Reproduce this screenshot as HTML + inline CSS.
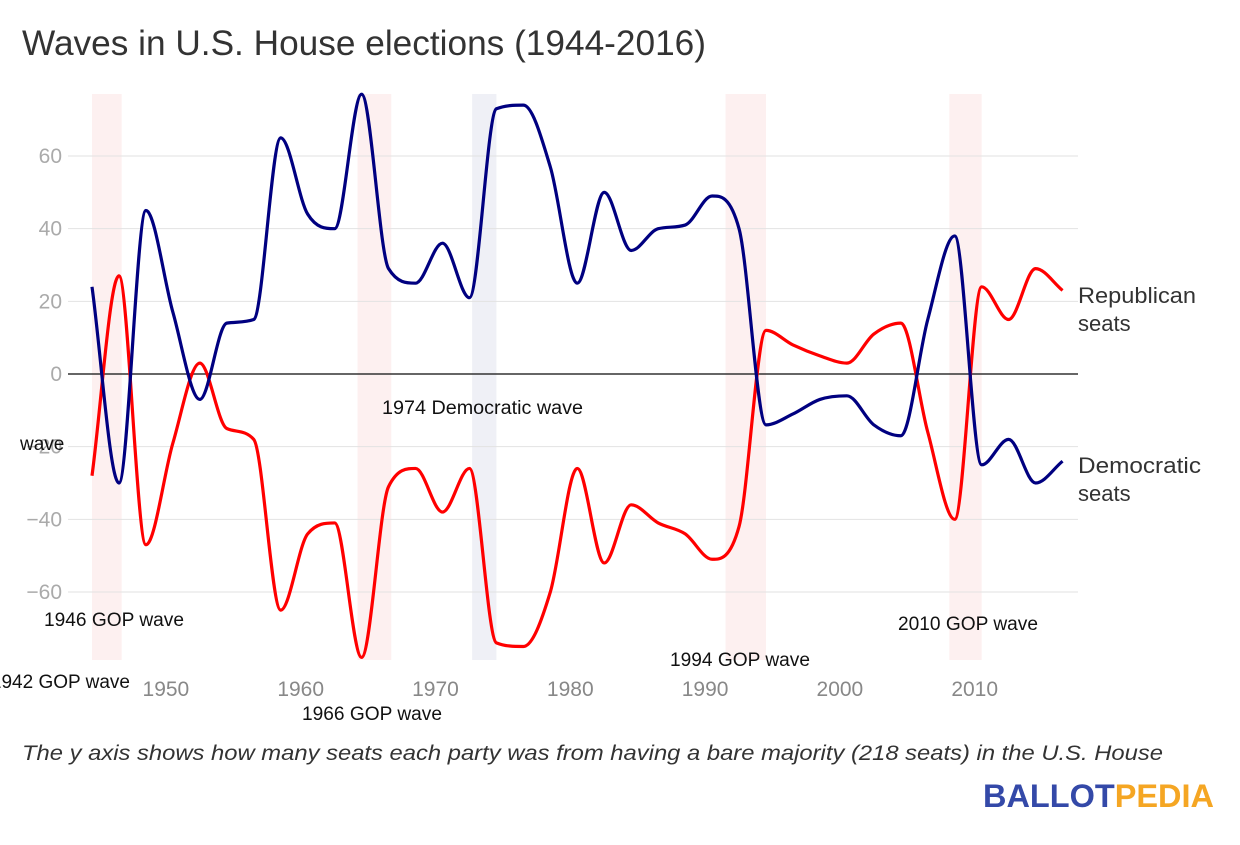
<!DOCTYPE html>
<html><head><meta charset="utf-8">
<style>
body{margin:0;background:#fff;}
svg text{font-family:"Liberation Sans",Arial,sans-serif;}
</style></head>
<body>
<svg id="chart" width="1240" height="840" viewBox="0 0 1240 840" xmlns="http://www.w3.org/2000/svg">
<text x="22" y="55" font-size="35" fill="#333" textLength="684" lengthAdjust="spacingAndGlyphs">Waves in U.S. House elections (1944-2016)</text>
<g id="bands"></g>
<g id="grid"></g>
<g id="yticks"></g>
<g id="xticks"></g>
<g id="series"></g>
<g font-size="19" fill="#111">
<text x="44" y="626" textLength="140" lengthAdjust="spacingAndGlyphs">1946 GOP wave</text>
<text x="130" y="688" text-anchor="end">1942 GOP wave</text>
<text x="302" y="720" textLength="140" lengthAdjust="spacingAndGlyphs">1966 GOP wave</text>
<text x="382" y="414" textLength="201" lengthAdjust="spacingAndGlyphs">1974 Democratic wave</text>
<text x="20" y="450">wave</text>
<text x="670" y="666" textLength="140" lengthAdjust="spacingAndGlyphs">1994 GOP wave</text>
<text x="898" y="630" textLength="140" lengthAdjust="spacingAndGlyphs">2010 GOP wave</text>
</g>
<g font-size="22" fill="#333">
<text x="1078" y="303"><tspan x="1078" textLength="118" lengthAdjust="spacingAndGlyphs">Republican</tspan><tspan x="1078" dy="28">seats</tspan></text>
<text x="1078" y="473"><tspan x="1078" textLength="123" lengthAdjust="spacingAndGlyphs">Democratic</tspan><tspan x="1078" dy="28">seats</tspan></text>
</g>
<text x="22" y="760" font-size="21" font-style="italic" fill="#333" textLength="1141" lengthAdjust="spacingAndGlyphs">The y axis shows how many seats each party was from having a bare majority (218 seats) in the U.S. House</text>
<text x="983" y="807" font-size="32" font-weight="bold" textLength="231" lengthAdjust="spacingAndGlyphs"><tspan fill="#3449a8">BALLOT</tspan><tspan fill="#f5a623">PEDIA</tspan></text>
</svg>
<script>
const years = [1944,1946,1948,1950,1952,1954,1956,1958,1960,1962,1964,1966,1968,1970,1972,1974,1976,1978,1980,1982,1984,1986,1988,1990,1992,1994,1996,1998,2000,2002,2004,2006,2008,2010,2012,2014,2016];
const demSeats = [24,-30,45,17,-7,14,15,65,44,40,77,29,25,36,21,73,74,57,25,50,34,40,41,49,40,-14,-11,-7,-6,-14,-17,15,38,-25,-18,-30,-24];
const repSeats = [-28,27,-47,-19,3,-15,-18,-65,-44,-41,-78,-31,-26,-38,-26,-74,-75,-60,-26,-52,-36,-41,-44,-51,-42,12,8,5,3,11,14,-16,-40,24,15,29,23];
const yTicks = [60,40,20,0,-20,-40,-60];
const xTicks = [1950,1960,1970,1980,1990,2000,2010];
const waveStart = [1944,1963.7,1972.2,1991,2007.6];
const waveEnd = [1946.2,1966.2,1974,1994,2010];
const waveDem = [false,false,true,false,false];

const NS="http://www.w3.org/2000/svg";
const x = yr => 92 + (yr-1944)*13.48;
const y = v => 374 - v*3.633;
function mk(tag, attrs, parent){const e=document.createElementNS(NS,tag);for(const k in attrs)e.setAttribute(k,attrs[k]);parent.appendChild(e);return e;}

const bands=document.getElementById('bands');
waveStart.forEach((s,i)=>{
  const r=mk('rect',{x:x(s),y:94,width:x(waveEnd[i])-x(s),height:566,fill:waveDem[i]?'#eff0f6':'#fdf0f0'},bands);
  
  
});
const grid=document.getElementById('grid'), yt=document.getElementById('yticks');
yTicks.forEach(v=>{
  const l=mk('line',{x1:68,x2:1078,y1:y(v),y2:y(v),stroke:v===0?'#333':'#e2e2e2','stroke-width':v===0?1.5:1},grid);
  
  
  const t=mk('text',{x:62,y:y(v)+7,'text-anchor':'end','font-size':21,fill:'#aaa'},yt);
  t.textContent = v<0 ? '\u2212'+Math.abs(v) : String(v);
  
  
});
const xt=document.getElementById('xticks');
xTicks.forEach(v=>{
  const t=mk('text',{x:x(v)-7,y:696,'text-anchor':'middle','font-size':21,fill:'#888'},xt);
  t.textContent=String(v);
  
  
});
function monotone(px,py){
  const n=px.length,d=[],m=[];
  for(let i=0;i<n-1;i++)d.push((py[i+1]-py[i])/(px[i+1]-px[i]));
  m[0]=d[0];m[n-1]=d[n-2];
  for(let i=1;i<n-1;i++){m[i]=(d[i-1]*d[i]<=0)?0:(d[i-1]+d[i])/2;}
  for(let i=0;i<n-1;i++){if(d[i]===0){m[i]=0;m[i+1]=0;continue;}const a=m[i]/d[i],b=m[i+1]/d[i],s=a*a+b*b;if(s>9){const t=3/Math.sqrt(s);m[i]=t*a*d[i];m[i+1]=t*b*d[i];}}
  let p='M'+px[0]+','+py[0];
  for(let i=0;i<n-1;i++){const h=(px[i+1]-px[i])/3;p+=' C'+(px[i]+h)+','+(py[i]+m[i]*h)+' '+(px[i+1]-h)+','+(py[i+1]-m[i+1]*h)+' '+px[i+1]+','+py[i+1];}
  return p;
}
const ser=document.getElementById('series');
const px=years.map(x);
const rp=mk('path',{d:monotone(px,repSeats.map(y)),fill:'none',stroke:'#ff0000','stroke-width':3.2},ser);


const dp=mk('path',{d:monotone(px,demSeats.map(y)),fill:'none',stroke:'#000080','stroke-width':3.2},ser);


</script>
</body></html>
